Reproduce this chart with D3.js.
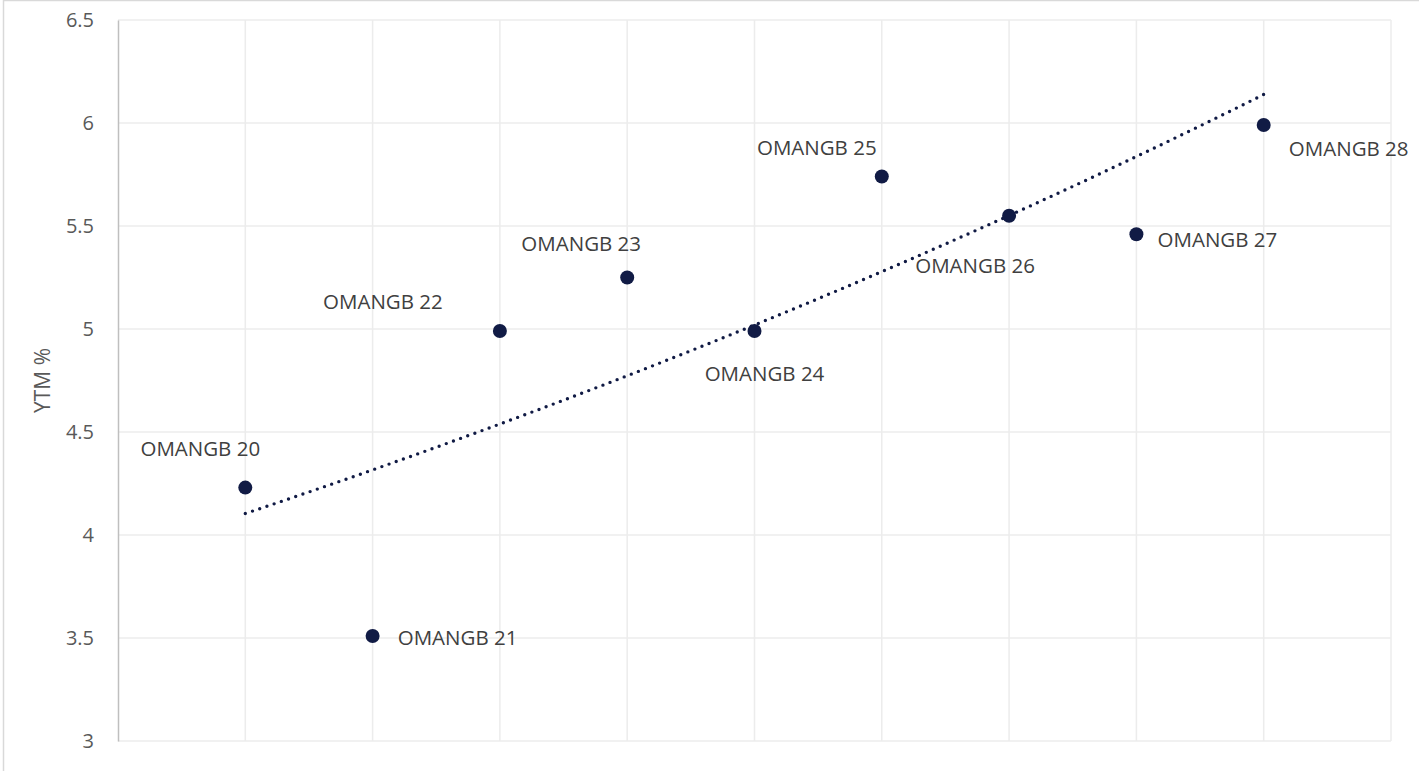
<!DOCTYPE html>
<html>
<head>
<meta charset="utf-8">
<script src="https://cdn.jsdelivr.net/npm/d3@7"></script>
<style>
  html, body { margin: 0; padding: 0; background: #fff; }
  svg { display: block; }
  text { font-family: "Open Sans", "Noto Sans", sans-serif; fill: #595959; }
</style>
</head>
<body>
<svg id="chart" width="1419" height="771"></svg>
<script>
// Bond names and yields to maturity (%)
const bonds = ["OMANGB 20", "OMANGB 21", "OMANGB 22", "OMANGB 23", "OMANGB 24",
               "OMANGB 25", "OMANGB 26", "OMANGB 27", "OMANGB 28"];
const ytm = [4.23, 3.51, 4.99, 5.25, 4.99, 5.74, 5.55, 5.46, 5.99];
const yTicks = [3, 3.5, 4, 4.5, 5, 5.5, 6, 6.5];
const xTicks = [0, 1, 2, 3, 4, 5, 6, 7, 8, 9, 10];
const yTitle = "YTM %";

// Label placement relative to each marker (px)
const labelOffset = [
  [-45, -40], [85, 1], [-117, -30], [-46, -35], [10, 42],
  [-65, -30], [-34, 49], [81, 5], [85, 23]
];

const svg = d3.select("#chart");
const W = 1419, H = 771;
const plot = { left: 118, right: 1391, top: 20, bottom: 741 };

// Outer chart frame
svg.append("rect")
  .attr("x", 3.5).attr("y", 0.5)
  .attr("width", W + 20).attr("height", H + 20)
  .attr("fill", "none").attr("stroke", "#d9d9d9").attr("stroke-width", 1.5);

const x = d3.scaleLinear().domain([0, 10]).range([plot.left, plot.right]);
const y = d3.scaleLinear().domain([3, 6.5]).range([plot.bottom, plot.top]);

// Gridlines
const grid = svg.append("g");
grid.selectAll("line.h").data(yTicks).join("line")
  .attr("x1", plot.left).attr("x2", plot.right)
  .attr("y1", d => y(d)).attr("y2", d => y(d))
  .attr("stroke", "#ececec").attr("stroke-width", 1.5);
grid.selectAll("line.v").data(xTicks.slice(1)).join("line")
  .attr("x1", d => x(d)).attr("x2", d => x(d))
  .attr("y1", plot.top).attr("y2", plot.bottom)
  .attr("stroke", "#ececec").attr("stroke-width", 1.5);

// Value axis
const yAxis = d3.axisLeft(y).tickValues(yTicks).tickSize(0).tickPadding(24)
  .tickFormat(d => String(d));
const ya = svg.append("g").attr("transform", `translate(${plot.left},0)`).call(yAxis);
ya.select(".domain").attr("stroke", "#bfbfbf").attr("stroke-width", 1.5);
ya.selectAll("text").attr("font-size", 20).style("fill", "#595959")
  .attr("font-family", "'Open Sans', sans-serif");

svg.append("text")
  .attr("transform", `translate(42,${(plot.top + plot.bottom) / 2}) rotate(-90)`)
  .attr("text-anchor", "middle").attr("dominant-baseline", "central")
  .attr("font-size", 21).text(yTitle);

// Exponential trendline fitted to the yields: y = a * e^(b x)
const xs = bonds.map((_, i) => i + 1);
const lny = ytm.map(v => Math.log(v));
const mx = d3.mean(xs), my = d3.mean(lny);
const b = d3.sum(xs, (xi, i) => (xi - mx) * (lny[i] - my)) / d3.sum(xs, xi => (xi - mx) ** 2);
const a = Math.exp(my - b * mx);
const trendPts = d3.range(1, 9.0001, 0.1).map(t => [t, a * Math.exp(b * t)]);
svg.append("path")
  .attr("d", d3.line().x(d => x(d[0])).y(d => y(d[1]))(trendPts))
  .attr("fill", "none").attr("stroke", "#101a44")
  .attr("stroke-width", 3.4).attr("stroke-linecap", "round")
  .attr("stroke-dasharray", "0 7.6");

// Markers
svg.append("g").selectAll("circle").data(ytm).join("circle")
  .attr("cx", (d, i) => x(i + 1)).attr("cy", d => y(d))
  .attr("r", 7).attr("fill", "#111b45");

// Data labels
svg.append("g").selectAll("text").data(bonds).join("text")
  .attr("x", (d, i) => x(i + 1) + labelOffset[i][0])
  .attr("y", (d, i) => y(ytm[i]) + labelOffset[i][1])
  .attr("text-anchor", "middle").attr("dominant-baseline", "central")
  .attr("font-size", 20.5).style("fill", "#404040")
  .text(d => d);
</script>
</body>
</html>
